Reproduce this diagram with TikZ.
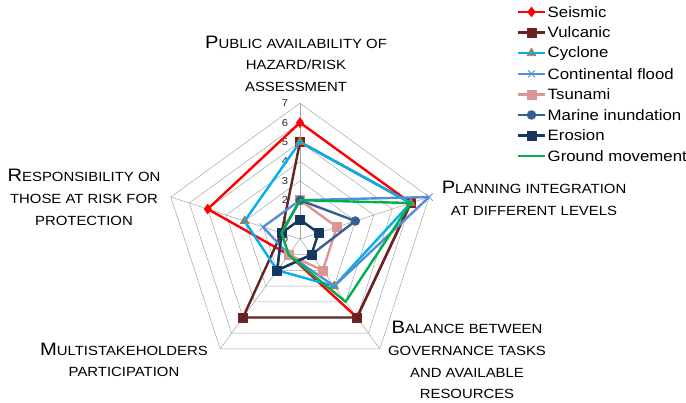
\documentclass[tikz,border=0pt]{standalone}
\usepackage{fontspec}
\setmainfont{Liberation Sans}[FakeStretch=1.12]
\usetikzlibrary{plotmarks}

\definecolor{seisred}{RGB}{255,0,0}
\definecolor{vulcbrown}{RGB}{99,37,35}
\definecolor{cyclblue}{RGB}{0,176,240}
\definecolor{cyclorange}{RGB}{228,108,10}
\definecolor{floodblue}{RGB}{85,142,213}
\definecolor{tsunpink}{RGB}{217,150,148}
\definecolor{marineblue}{RGB}{55,96,146}
\definecolor{erosnavy}{RGB}{23,55,94}
\definecolor{groundgreen}{RGB}{0,176,80}
\definecolor{gridgray}{RGB}{165,165,165}

% erster Buchstabe der Achsentitel gross
\newcommand\capsl[1]{{\fontsize{18}{21.8}\selectfont #1}}

\tikzset{
	gridline/.style={draw=gridgray, line width=0.5pt},
	axislabel/.style={align=center, inner sep=0pt, anchor=north, font=\fontsize{13.3}{21.8}\selectfont},
	ticklabel/.style={inner sep=0pt, font=\fontsize{10}{12}\selectfont, text=black!85},
	legendtext/.style={anchor=west, inner sep=0pt, font=\fontsize{15}{18}\selectfont},
	series/.style={line width=2.4pt, line join=round},
	seismic/.style={series, draw=seisred, mark=diamond*, mark size=5pt, mark options={fill=seisred, draw=seisred, line width=0.4pt}},
	vulcanic/.style={series, draw=vulcbrown, mark=square*, mark size=4.5pt, mark options={fill=vulcbrown, draw=vulcbrown!80!red, line width=0.4pt}},
	cyclone/.style={series, draw=cyclblue, mark=triangle*, mark size=5pt, mark options={fill=cyclblue, draw=cyclorange, line width=0.8pt}},
	flood/.style={series, draw=floodblue, mark=x, mark size=5pt, mark options={draw=floodblue, line width=0.8pt}},
	tsunami/.style={series, draw=tsunpink, mark=square*, mark size=4.5pt, mark options={fill=tsunpink, draw=tsunpink, line width=0.4pt}},
	marine/.style={series, draw=marineblue, mark=*, mark size=4.5pt, mark options={fill=marineblue, draw=marineblue, line width=0.4pt}},
	erosion/.style={series, draw=erosnavy, mark=square*, mark size=4.5pt, mark options={fill=erosnavy, draw=erosnavy, line width=0.4pt}},
	ground/.style={series, draw=groundgreen, mark=none}
}

\begin{document}
\begin{tikzpicture}[x=1pt,y=1pt]
	\useasboundingbox (0,0) rectangle (686,403);

	\begin{scope}[xshift=300pt, yshift=164pt, x=19.4pt, y=19.4pt]
		%Netz zeichnen
		\foreach \r in {1,...,7}
			\draw[gridline] (90:\r) -- (18:\r) -- (-54:\r) -- (-126:\r) -- (162:\r) -- cycle;
		\foreach \a in {90,18,-54,-126,162}
			\draw[gridline] (0,0) -- (\a:7);
		\foreach \r in {0,...,7}
			\node[ticklabel] (tick\r) at (-0.77,\r) {\r};

		%Reihen zeichnen
		\draw[seismic] plot coordinates {(90:6) (18:6) (-54:5) (-126:1) (162:5)} -- cycle;
		\draw[vulcanic] plot coordinates {(90:5) (18:6) (-54:5) (-126:5) (162:1)} -- cycle;
		\draw[cyclone] plot coordinates {(90:5) (18:6) (-54:3) (-126:2) (162:3)} -- cycle;
		\draw[flood] plot coordinates {(90:2) (18:7) (-54:3) (-126:1) (162:2)} -- cycle;
		\draw[tsunami] plot coordinates {(90:2) (18:2) (-54:2) (-126:1) (162:1)} -- cycle;
		\draw[marine] plot coordinates {(90:2) (18:3) (-54:1) (-126:2) (162:1)} -- cycle;
		\draw[erosion] plot coordinates {(90:1) (18:1) (-54:1) (-126:2) (162:1)} -- cycle;
		\draw[ground] plot coordinates {(90:2) (18:6) (-54:4) (-126:1) (162:1)} -- cycle;
	\end{scope}

	%Achsentitel
	\node[axislabel] (public) at (296,367.5) {\capsl{P}UBLIC AVAILABILITY OF\\HAZARD/RISK\\ASSESSMENT};
	\node[axislabel] (planning) at (534,222) {\capsl{P}LANNING INTEGRATION\\AT DIFFERENT LEVELS};
	\node[axislabel] (balance) at (467,82) {\capsl{B}ALANCE BETWEEN\\GOVERNANCE TASKS\\AND AVAILABLE\\RESOURCES};
	\node[axislabel] (multi) at (124,60.5) {\capsl{M}ULTISTAKEHOLDERS\\PARTICIPATION};
	\node[axislabel] (respons) at (84,234) {\capsl{R}ESPONSIBILITY ON\\THOSE AT RISK FOR\\PROTECTION};

	%Legende
	\foreach \sname/\sty [count=\k from 0] in
		{Seismic/seismic,Vulcanic/vulcanic,Cyclone/cyclone,Continental flood/flood,Tsunami/tsunami,Marine inundation/marine,Erosion/erosion,Ground movement/ground}
		{
			\draw[\sty] plot[mark indices={2}] coordinates {(518,{391-20.6*\k}) (531.5,{391-20.6*\k}) (545,{391-20.6*\k})};
			\node[legendtext] (leg\k) at (547.5,{391-20.6*\k}) {\sname};
		}
\end{tikzpicture}
\end{document}
